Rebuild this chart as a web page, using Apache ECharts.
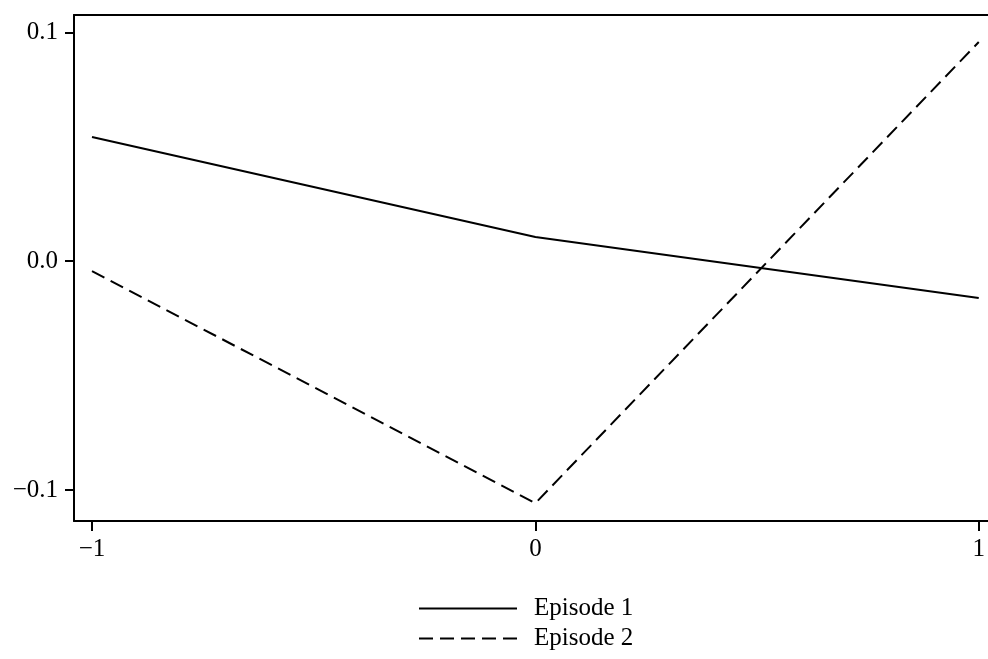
<!DOCTYPE html>
<html>
<head>
<meta charset="utf-8">
<script src="https://cdn.jsdelivr.net/npm/echarts@6/dist/echarts.min.js"></script>
<style>html,body{margin:0;padding:0;background:#fff}#c{width:988px;height:659px}</style>
</head>
<body>
<div id="c"></div>
<script>
var xValues = [-1, 0, 1];
var episode1 = [0.0543, 0.0106, -0.0161];
var episode2 = [-0.0043, -0.1057, 0.0958];
var xTicks = [-1, 0, 1];
var yTicks = [-0.1, 0, 0.1];
var seriesNames = ['Episode 1', 'Episode 2'];

function pairs(vals) { return xValues.map(function (x, i) { return [x, vals[i]]; }); }
function fmtMinus(s) { return s.replace('-', '\u2212'); }

var font = 'Liberation Serif';
var chart = echarts.init(document.getElementById('c'), null, { renderer: 'canvas' });
chart.setOption({
  animation: false,
  backgroundColor: '#fff',
  grid: { left: 74, top: 15, right: 0, bottom: 138, containLabel: false },
  xAxis: [{
    type: 'value', min: -1.0406, max: 1.0203,
    splitLine: { show: false },
    axisLine: { show: true, onZero: false, lineStyle: { color: '#000', width: 2 } },
    axisTick: { show: true, customValues: xTicks, length: 10, lineStyle: { color: '#000', width: 2 } },
    axisLabel: { customValues: xTicks, color: '#000', fontFamily: font, fontSize: 25, margin: 16,
      formatter: function (v) { return fmtMinus(String(v)); } }
  }, {
    type: 'value', position: 'top', min: -1.0406, max: 1.0203,
    splitLine: { show: false },
    axisLine: { show: true, onZero: false, lineStyle: { color: '#000', width: 2 } },
    axisTick: { show: false }, axisLabel: { show: false }
  }],
  yAxis: {
    type: 'value', min: -0.1135, max: 0.1076,
    splitLine: { show: false },
    axisLine: { show: true, onZero: false, lineStyle: { color: '#000', width: 2 } },
    axisTick: { show: true, customValues: yTicks, length: 9, lineStyle: { color: '#000', width: 2 } },
    axisLabel: { customValues: yTicks, color: '#000', fontFamily: font, fontSize: 25, margin: 16,
      formatter: function (v) { return fmtMinus(v.toFixed(1)); } }
  },
  legend: {
    orient: 'vertical', left: 418, top: 596, padding: 0,
    itemWidth: 98, itemHeight: 25, itemGap: 5,
    itemStyle: { opacity: 0 },
    textStyle: { color: '#000', fontFamily: font, fontSize: 25, padding: [0, 0, 0, 12] },
    data: seriesNames
  },
  series: [{
    name: seriesNames[0], type: 'line', data: pairs(episode1), symbol: 'none',
    lineStyle: { color: '#000', width: 2, type: 'solid' }, itemStyle: { color: '#000' }
  }, {
    name: seriesNames[1], type: 'line', data: pairs(episode2), symbol: 'none',
    lineStyle: { color: '#000', width: 2, type: [14, 7] }, itemStyle: { color: '#000' }
  }]
});
</script>
</body>
</html>
